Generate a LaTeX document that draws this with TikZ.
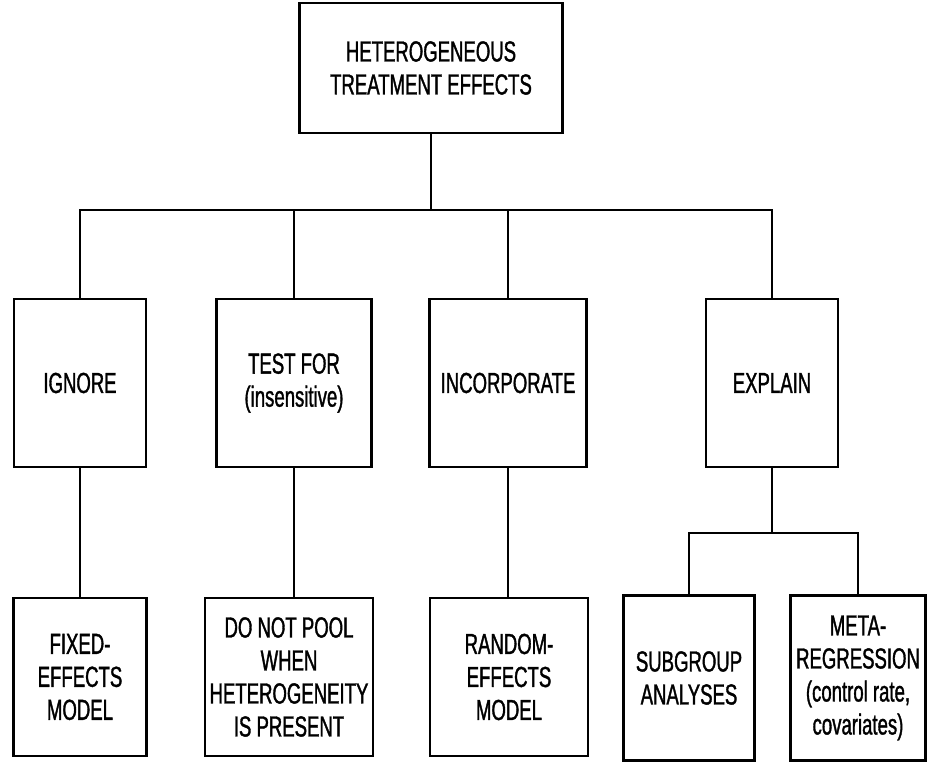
\documentclass[tikz,border=0pt]{standalone}
\usepackage{fontspec}
\newfontfamily\boxfont[FakeStretch=0.64,FakeBold=1.2]{Liberation Sans}
\tikzset{
  box/.style={draw, line width=2.4pt, align=center, inner sep=0pt,
    font=\boxfont\fontsize{29}{33}\selectfont},
  link/.style={line width=1.8pt}
}

\begin{document}
\begin{tikzpicture}[x=1pt, y=-1pt]
  \useasboundingbox (0,0) rectangle (934,767);
  % top
  \node[box, minimum width=263pt, minimum height=130pt] (hte) at (431,68) {HETEROGENEOUS\\TREATMENT EFFECTS};
  % four approaches
  \node[box, minimum width=132pt, minimum height=168pt] (ignore) at (80,383) {IGNORE};
  \node[box, minimum width=155pt, minimum height=168pt] (testfor) at (294,383) {TEST FOR\\(insensitive)};
  \node[box, minimum width=157pt, minimum height=168pt] (incorp) at (508,383) {INCORPORATE};
  \node[box, minimum width=132pt, minimum height=168pt] (explain) at (772,383) {EXPLAIN};
  % outcomes
  \node[box, minimum width=133pt, minimum height=158pt] (fixed) at (80,677) {FIXED-\\EFFECTS\\MODEL};
  \node[box, minimum width=168pt, minimum height=158pt] (nopool) at (289,677) {DO NOT POOL\\WHEN\\HETEROGENEITY\\IS PRESENT};
  \node[box, minimum width=158pt, minimum height=158pt] (random) at (509,677) {RANDOM-\\EFFECTS\\MODEL};
  \node[box, minimum width=131pt, minimum height=165pt] (subgroup) at (689,678) {SUBGROUP\\ANALYSES};
  \node[box, minimum width=135pt, minimum height=165pt] (metareg) at (858,678) {META-\\REGRESSION\\(control rate,\\covariates)};
  % connectors
  \coordinate (bus) at (431,210);
  \coordinate (split) at (772,533);
  \draw[link] (hte.south) -- (bus);
  \draw[link] (ignore.north) |- (bus) -| (explain.north);
  \draw[link] (testfor.north) -- (testfor.north |- bus);
  \draw[link] (incorp.north) -- (incorp.north |- bus);
  \draw[link] (ignore.south) -- (fixed.north);
  \draw[link] (testfor.south) -- (testfor.south |- nopool.north);
  \draw[link] (incorp.south) -- (incorp.south |- random.north);
  \draw[link] (explain.south) -- (split);
  \draw[link] (subgroup.north) |- (split) -| (metareg.north);
\end{tikzpicture}
\end{document}
